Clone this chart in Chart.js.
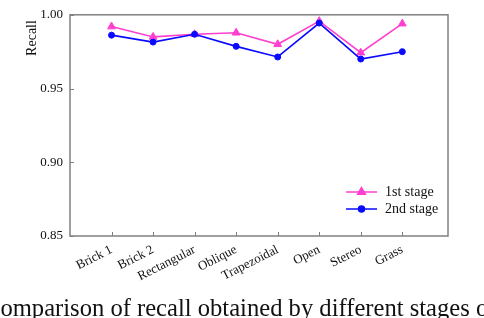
<!DOCTYPE html>
<html>
<head>
<meta charset="utf-8">
<script src="https://cdn.jsdelivr.net/npm/chart.js"></script>
<style>
  html, body { margin: 0; padding: 0; background: #fff; overflow: hidden; }
  #wrap { position: relative; width: 484px; height: 318px; overflow: hidden; }
  canvas { position: absolute; left: 0; top: 0; }
  #caption {
    position: absolute; left: -16px; top: 294px; white-space: nowrap;
    font-family: "Liberation Serif", serif; font-size: 24.6px; color: #111;
  }
</style>
</head>
<body>
<div id="wrap">
  <canvas id="chart" width="484" height="318"></canvas>
  <div id="caption">Comparison of recall obtained by different stages of the proposed method</div>
</div>
<script>
  const categories = ['Brick 1', 'Brick 2', 'Rectangular', 'Oblique', 'Trapezoidal', 'Open', 'Stereo', 'Grass'];
  const stage1 = [0.992, 0.985, 0.9868, 0.9878, 0.980, 0.9957, 0.9743, 0.994];
  const stage2 = [0.9862, 0.9815, 0.9868, 0.9786, 0.9714, 0.9944, 0.970, 0.975];
  const yTicks = [0.85, 0.90, 0.95, 1.00];

  const pink = '#ff3fcf';
  const blue = '#0a0aff';
  const frame = '#808080';
  const serif = '"Liberation Serif", "Times New Roman", serif';

  const toPoints = arr => arr.map((v, i) => ({ x: i + 1, y: v }));

  // frame, inward ticks, y title and legend
  const decor = {
    id: 'decor',
    afterDraw(chart) {
      const { ctx, chartArea: a, scales } = chart;
      ctx.save();
      ctx.strokeStyle = frame;
      ctx.lineWidth = 1.5;
      ctx.strokeRect(a.left, a.top, a.right - a.left, a.bottom - a.top);
      ctx.lineWidth = 1;
      ctx.beginPath();
      categories.forEach((c, i) => {
        const x = Math.round(scales.x.getPixelForValue(i + 1)) + 0.5;
        ctx.moveTo(x, a.bottom);
        ctx.lineTo(x, a.bottom - 4);
      });
      yTicks.forEach(t => {
        const y = Math.round(scales.y.getPixelForValue(t)) + 0.5;
        ctx.moveTo(a.left, y);
        ctx.lineTo(a.left + 4, y);
      });
      ctx.stroke();

      // y title
      ctx.fillStyle = '#111';
      ctx.font = '14px ' + serif;
      ctx.textAlign = 'center';
      ctx.textBaseline = 'middle';
      ctx.translate(32, 38);
      ctx.rotate(-Math.PI / 2);
      ctx.fillText('Recall', 0, 0);
      ctx.setTransform(1, 0, 0, 1, 0, 0);

      // legend
      const items = [
        { label: '1st stage', color: pink, style: 'triangle', r: 4.5, y: 192 },
        { label: '2nd stage', color: blue, style: 'circle', r: 3, y: 209 }
      ];
      items.forEach(it => {
        ctx.strokeStyle = it.color;
        ctx.lineWidth = 1.5;
        ctx.beginPath();
        ctx.moveTo(346, it.y);
        ctx.lineTo(377, it.y);
        ctx.stroke();
        ctx.fillStyle = it.color;
        Chart.helpers.drawPoint(ctx, { pointStyle: it.style, radius: it.r, borderWidth: 1 }, 361.5, it.y);
        ctx.fill();
        ctx.fillStyle = '#111';
        ctx.font = '14px ' + serif;
        ctx.textAlign = 'left';
        ctx.fillText(it.label, 385, it.y);
      });
      ctx.restore();
    }
  };

  new Chart(document.getElementById('chart'), {
    type: 'line',
    data: {
      datasets: [
        {
          label: '2nd stage', data: toPoints(stage2), order: 0,
          borderColor: blue, backgroundColor: blue, borderWidth: 1.6,
          pointStyle: 'circle', pointRadius: 3, pointBorderWidth: 1, clip: false
        },
        {
          label: '1st stage', data: toPoints(stage1), order: 1,
          borderColor: pink, backgroundColor: pink, borderWidth: 1.6,
          pointStyle: 'triangle', pointRadius: 4.5, pointBorderWidth: 1, clip: false
        }
      ]
    },
    options: {
      responsive: false,
      animation: false,
      events: [],
      layout: { padding: { top: 5, right: 36, left: 0, bottom: 0 } },
      plugins: { legend: { display: false }, tooltip: { enabled: false } },
      scales: {
        x: {
          type: 'linear', min: 0, max: 9.1,
          afterBuildTicks: s => { s.ticks = categories.map((c, i) => ({ value: i + 1 })); },
          afterFit: s => { s.height = 82; },
          grid: { display: false, drawTicks: false },
          border: { display: false },
          ticks: {
            autoSkip: false, minRotation: 27, maxRotation: 27, padding: 6,
            color: '#111', font: { family: serif, size: 13 },
            callback: v => categories[v - 1]
          }
        },
        y: {
          min: 0.85, max: 1.0,
          afterBuildTicks: s => { s.ticks = yTicks.map(v => ({ value: v })); },
          afterFit: s => { s.width = 70; },
          grid: { display: false, drawTicks: false },
          border: { display: false },
          ticks: {
            padding: 7, color: '#111', font: { family: serif, size: 13 },
            callback: v => v.toFixed(2)
          }
        }
      }
    },
    plugins: [decor]
  });
</script>
</body>
</html>
